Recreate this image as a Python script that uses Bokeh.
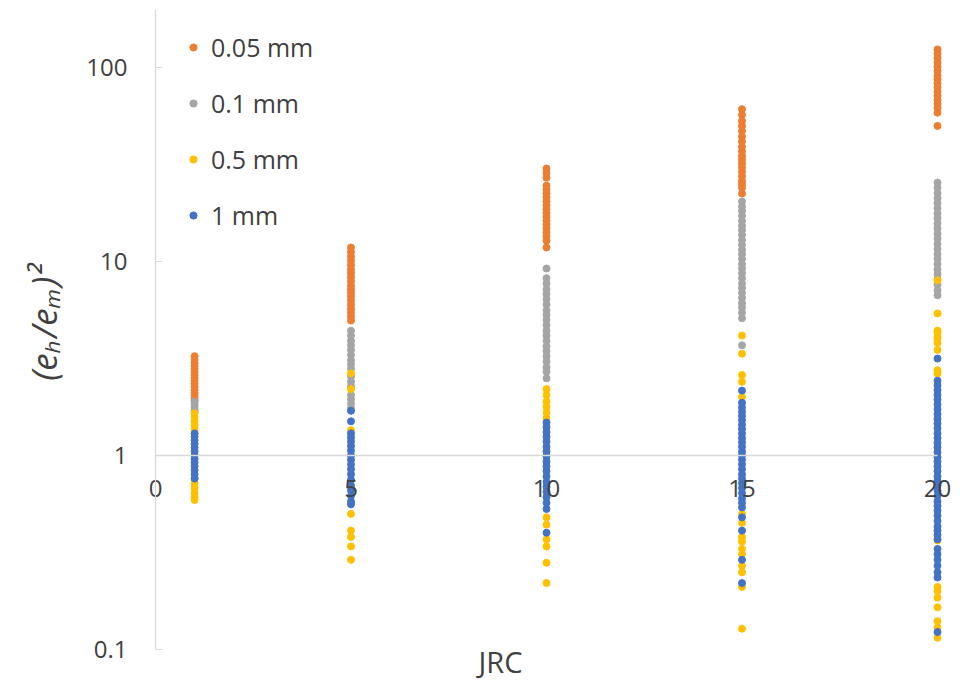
import math
from bokeh.plotting import figure
from bokeh.models import FixedTicker, NumeralTickFormatter, Label
from bokeh.embed import file_html
from bokeh.resources import INLINE

# ---------------- data ----------------
jrc_levels = [1, 5, 10, 15, 20]
series_names = ["0.05 mm", "0.1 mm", "0.5 mm", "1 mm"]
series_colors = ["#ED7D31", "#A5A5A5", "#FFC000", "#4472C4"]

x_ticks = [0, 5, 10, 15, 20]
y_ticks = [0.1, 1, 10, 100]

# (e_h/e_m)^2 values, one list per JRC level
ratio_005mm = [
    [3.25, 3.12, 3.0, 2.9, 2.8, 2.7, 2.6, 2.5, 2.42, 2.34, 2.26, 2.18, 2.1, 2.03, 1.97, 1.92],
    [11.8, 11.2, 10.6, 10.1, 9.6, 9.1, 8.7, 8.3, 7.9, 7.5, 7.2, 6.9, 6.6, 6.3, 6.0, 5.7, 5.45, 5.2, 4.96],
    [30.2, 28.6, 27.0, 24.6, 23.5, 22.4, 21.4, 20.4, 19.5, 18.6, 17.8, 17.0, 16.2, 15.5, 14.8, 14.1, 13.5, 12.8, 11.8],
    [61, 57, 53, 50, 47, 44, 41.5, 39, 37, 35, 33.5, 32, 30.5, 29, 27.5, 26, 25, 24, 22.4],
    [124, 118, 112, 106, 101, 96, 91, 87, 83, 79, 75, 71.5, 68, 65, 62, 58.5, 50],
]
ratio_01mm = [
    [1.9, 1.84, 1.78, 1.72, 1.68],
    [4.4, 4.15, 3.9, 3.7, 3.5, 3.3, 3.1, 2.95, 2.8, 2.55, 2.4, 2.28, 2.05, 1.95, 1.85, 1.75],
    [9.2, 8.2, 7.7, 7.2, 6.8, 6.4, 6.0, 5.6, 5.3, 5.0, 4.7, 4.4, 4.15, 3.9, 3.65, 3.45, 3.25, 3.05, 2.85, 2.7, 2.5],
    [20.4, 19.2, 18.2, 17.2, 16.2, 15.3, 14.5, 13.7, 12.9, 12.2, 11.5, 10.9, 10.3, 9.7, 9.2, 8.7, 8.2, 7.7,
     7.3, 6.9, 6.5, 6.1, 5.8, 5.45, 5.1, 3.7],
    [25.5, 24, 22.5, 21.2, 20, 18.8, 17.7, 16.7, 15.7, 14.8, 13.9, 13.1, 12.3, 11.6, 10.9, 10.3, 9.7, 9.1,
     8.6, 8.1, 7.6, 7.1, 6.7],
]
ratio_05mm = [
    [1.65, 1.58, 1.5, 1.43, 1.36, 1.3, 0.76, 0.72, 0.68, 0.64, 0.61, 0.59],
    [2.65, 2.2, 1.35, 0.5, 0.41, 0.38, 0.34, 0.29],
    [2.2, 2.05, 1.9, 1.78, 1.66, 1.55, 0.48, 0.44, 0.37, 0.34, 0.28, 0.22],
    [4.15, 3.35, 2.6, 2.4, 2.0, 0.5, 0.45, 0.38, 0.36, 0.33, 0.31, 0.27, 0.25, 0.21, 0.128],
    [8.0, 5.4, 4.4, 4.3, 4.1, 4.0, 3.8, 3.5, 2.75, 2.65, 0.365, 0.21, 0.2, 0.185, 0.165, 0.14, 0.13, 0.115],
]
ratio_1mm = [
    [1.3, 1.25, 1.2, 1.15, 1.1, 1.05, 1.0, 0.96, 0.92, 0.88, 0.84, 0.8, 0.76],
    [1.7, 1.5, 1.3, 1.24, 1.18, 1.12, 1.06, 1.0, 0.95, 0.9, 0.85, 0.8, 0.75, 0.7, 0.66, 0.62, 0.58, 0.56],
    [1.48, 1.4, 1.32, 1.25, 1.18, 1.11, 1.05, 0.99, 0.93, 0.88, 0.83, 0.78, 0.73, 0.69, 0.65, 0.61, 0.57,
     0.53, 0.4],
    [2.16, 1.87, 1.77, 1.68, 1.6, 1.52, 1.44, 1.37, 1.3, 1.23, 1.17, 1.11, 1.05, 1.0, 0.95, 0.9, 0.85, 0.8,
     0.76, 0.72, 0.68, 0.64, 0.6, 0.57, 0.54, 0.48, 0.41, 0.29, 0.22],
    [3.16, 2.43, 2.3, 2.17, 2.05, 1.94, 1.83, 1.73, 1.63, 1.54, 1.46, 1.38, 1.3, 1.23, 1.16, 1.1, 1.04, 0.98,
     0.93, 0.88, 0.83, 0.78, 0.74, 0.7, 0.66, 0.62, 0.58, 0.55, 0.52, 0.49, 0.46, 0.43, 0.41, 0.39, 0.37,
     0.33, 0.31, 0.29, 0.27, 0.25, 0.235, 0.123],
]
all_series = [ratio_005mm, ratio_01mm, ratio_05mm, ratio_1mm]

# ---------------- layout ----------------
FONT = "Open Sans"
TEXT_COLOR = "#404040"
AXIS_COLOR = "#d9d9d9"
W, H = 977, 684
X0_PX, PX_PER_UNIT = 155, 39.1          # where JRC = 0 sits, and scale
Y1_PX, PX_PER_DECADE = 455, 194          # where ratio = 1 sits, and scale
Y_TOP = 199                              # top end of the value axis line

x_view = (-X0_PX / PX_PER_UNIT, (W - X0_PX) / PX_PER_UNIT)
y_view = (10 ** (-(H - Y1_PX) / PX_PER_DECADE), 10 ** (Y1_PX / PX_PER_DECADE))

p = figure(width=W, height=H, x_range=x_view, y_range=y_view,
           y_axis_type="log", output_backend="svg", toolbar_location=None,
           min_border_left=0, min_border_right=0, min_border_top=0, min_border_bottom=0)
p.outline_line_color = None
p.xgrid.visible = False
p.ygrid.visible = False
p.background_fill_color = "white"
p.border_fill_color = "white"

# value axis (crosses at JRC = 0)
yax = p.yaxis[0]
yax.fixed_location = x_ticks[0]
yax.bounds = (y_ticks[0], Y_TOP)
yax.ticker = FixedTicker(ticks=y_ticks)
yax.formatter = NumeralTickFormatter(format="0.[0]")
yax.axis_line_color = AXIS_COLOR
yax.axis_line_width = 1.3
yax.major_tick_line_color = AXIS_COLOR
yax.major_tick_in = 7
yax.major_tick_out = 0
yax.minor_tick_line_color = None
yax.major_label_standoff = 28
yax.major_label_text_font = FONT
yax.major_label_text_font_size = "24px"
yax.major_label_text_color = TEXT_COLOR

# category axis (crosses at ratio = 1)
xax = p.xaxis[0]
xax.fixed_location = 1
xax.bounds = (x_ticks[0], x_ticks[-1])
xax.ticker = FixedTicker(ticks=x_ticks)
xax.axis_line_color = AXIS_COLOR
xax.axis_line_width = 1.3
xax.major_tick_in = 0
xax.major_tick_out = 0
xax.minor_tick_line_color = None
xax.major_label_standoff = 24
xax.major_label_text_font = FONT
xax.major_label_text_font_size = "24px"
xax.major_label_text_color = TEXT_COLOR

# scatter series
for name, color, data in zip(series_names, series_colors, all_series):
    xs = [j for j, vals in zip(jrc_levels, data) for _ in vals]
    ys = [v for vals in data for v in vals]
    p.scatter(xs, ys, size=7, fill_color=color, line_color=color, legend_label=name)

# axis titles
p.add_layout(Label(x=500, y=H - 661, x_units="screen", y_units="screen", text="JRC",
                   text_align="center", text_baseline="middle",
                   text_font=FONT, text_font_size="29px", text_color=TEXT_COLOR))
p.add_layout(Label(x=43, y=H - 322, x_units="screen", y_units="screen", text="(eₕ/eₘ)²",
                   angle=math.pi / 2, text_align="center", text_baseline="middle",
                   text_font=FONT, text_font_size="35px", text_font_style="italic",
                   text_color=TEXT_COLOR))

lg = p.legend[0]
lg.location = (175, H - 232)
lg.margin = 0
lg.padding = 0
lg.spacing = 22
lg.glyph_width = 36
lg.glyph_height = 18
lg.label_height = 32
lg.label_standoff = 0
lg.label_text_font = FONT
lg.label_text_font_size = "25px"
lg.label_text_color = TEXT_COLOR
lg.border_line_color = None
lg.background_fill_alpha = 0

open("out.html", "w").write(file_html(p, INLINE))
